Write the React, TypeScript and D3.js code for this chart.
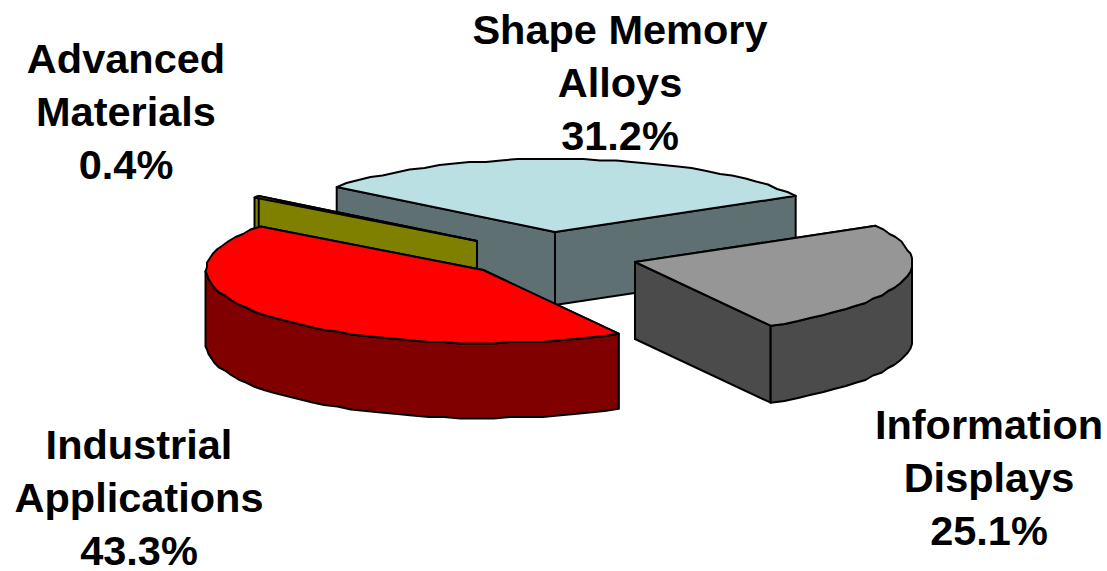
import React from "react";
import * as d3 from "d3";

const categories = ["Shape Memory Alloys", "Information Displays", "Industrial Applications", "Advanced Materials"];
const shares = [31.2, 25.1, 43.3, 0.4];
const topColors = ["#bbe0e3", "#969696", "#ff0000", "#ffff00"];
const sideColors = ["#5e7072", "#4b4b4b", "#800000", "#808000"];
const labelLines = [["Shape Memory", "Alloys", "31.2%"], ["Information", "Displays", "25.1%"], ["Industrial", "Applications", "43.3%"], ["Advanced", "Materials", "0.4%"]];

// layout of the exploded slices
const sliceShiftX = [5, 85, -67, -73];
const sliceShiftY = [-23, 7, 15, -14];
const sliceDepth = [73, 77, 75, 75];
const labelCentres = [[620, 30], [989, 425], [139, 445], [126, 59]];
const drawOrder = [0, 3, 2, 1];

const W = 1107, H = 571;
const cx = 550, cy = 255, rx = 277, ry = 73;
const startDeg = -52;
const grid = 1.5;

const arcs = d3.pie<number>().sort(null).startAngle((startDeg * Math.PI) / 180).endAngle(((startDeg + 360) * Math.PI) / 180)(shares);
const xs = d3.scaleLinear().domain([-1, 1]).range([-rx, rx]);
const ys = d3.scaleLinear().domain([-1, 1]).range([ry, -ry]);
const snap = (v: number) => Math.round(v / grid) * grid;
const pt = (a: number, ox: number, oy: number): [number, number] => [ox + xs(Math.sin(a)), oy + ys(Math.cos(a))];
const line = d3.line();

function Slice({ i }: { i: number }) {
  const a = arcs[i];
  const ox = cx + sliceShiftX[i];
  const oy = cy + sliceShiftY[i];
  const depth = sliceDepth[i];
  const n = Math.max(2, Math.ceil((a.endAngle - a.startAngle) / 0.06));
  const angles = d3.range(n + 1).map((k) => a.startAngle + ((a.endAngle - a.startAngle) * k) / n);
  // the rim is slightly rough in the reference: inner points sit on a coarse pixel grid
  const rim = angles.map((t, k): [number, number] => {
    const p = pt(t, ox, oy);
    return k === 0 || k === n ? p : [snap(p[0]), snap(p[1])];
  });
  const apex: [number, number] = [ox, oy];
  const down = ([x, y]: [number, number]): [number, number] => [x, y + depth];
  const top = line([apex, ...rim])! + "Z";
  const wall = (p: [number, number]) => line([apex, p, down(p), down(apex)])! + "Z";
  const faces = [wall(rim[0]), wall(rim[rim.length - 1])];
  const front = rim.filter((_, k) => Math.cos(angles[k]) <= 0);
  if (front.length > 1) faces.push(line([...front, ...front.slice().reverse().map(down)])! + "Z");
  return (
    <g stroke="#000" strokeWidth={2} strokeLinejoin="round">
      {faces.map((d, k) => <path key={k} d={d} fill={sideColors[i]} />)}
      <path d={top} fill={topColors[i]} />
    </g>
  );
}

export default function App() {
  return (
    <svg width={W} height={H} viewBox={`0 0 ${W} ${H}`} style={{ position: "absolute", left: 0, top: 0, background: "#fff" }}>
      {drawOrder.map((i) => <Slice key={categories[i]} i={i} />)}
      {labelLines.map((lines, i) => (
        <text key={i} textAnchor="middle" fontFamily="Liberation Sans, Arial, sans-serif" fontWeight="700" fontSize={41.5} fill="#000">
          {lines.map((l, k) => <tspan key={k} x={labelCentres[i][0]} y={labelCentres[i][1] + 14 + k * 53}>{l}</tspan>)}
        </text>
      ))}
    </svg>
  );
}
